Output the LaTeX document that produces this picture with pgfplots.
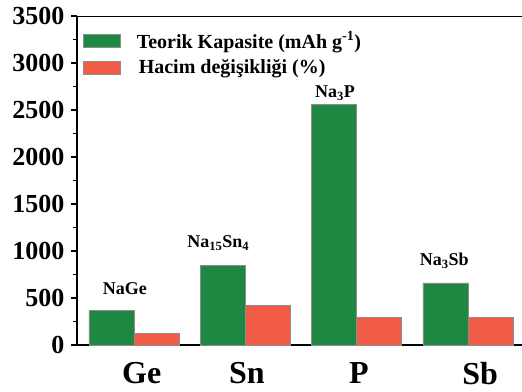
\documentclass[border=0pt]{standalone}
\usepackage{fontspec}
\setmainfont{Liberation Serif}
\usepackage{pgfplots}
\pgfplotsset{compat=1.18}
\definecolor{cgreen}{RGB}{30,135,66}
\definecolor{cred}{RGB}{240,92,69}
\begin{document}
\begin{tikzpicture}
\path[use as bounding box] (-77pt,-46pt) rectangle (445pt,345pt);
\begin{axis}[
  scale only axis, width=445pt, height=329pt,
  at={(0pt,0pt)}, anchor=south west,
  xmin=-0.512, xmax=3.486, ymin=0, ymax=3500,
  axis x line*=bottom, axis y line*=left,
  axis line style={line width=2pt},
  ybar=0pt, bar width=45pt,
  ytick={0,500,...,3500}, minor ytick={250,750,...,3250},
  tick align=outside, major tick length=6pt, minor tick length=3.5pt,
  every tick/.style={line width=1.3pt, black},
  xtick={0.07,1.015,2.02,3.11}, xticklabels={Ge,Sn,P,Sb},
  x tick style={draw=none},
  /pgf/number format/assume math mode=true,
  /pgf/number format/set thousands separator={},
  yticklabel style={font=\fontsize{26}{26}\selectfont\bfseries, xshift=-3pt},
  xticklabel style={font=\fontsize{32}{32}\selectfont\bfseries, yshift=-8pt},
  legend cell align=left,
  legend image code/.code={\draw[#1,draw=black!45,line width=0.6pt] (0pt,-6.5pt) rectangle (37pt,6.5pt);},
  legend style={draw=none, fill=none, at={(0.0135,0.96)}, anchor=north west,
    font=\fontsize{20}{22}\selectfont\bfseries, inner sep=0pt, row sep=6pt,
    /tikz/every odd column/.style={column sep=14pt}},
]
\addplot[fill=cgreen, draw=black!45, line width=0.6pt] coordinates {(0,369) (1,847) (2,2560) (3,660)};
\addlegendentry{Teorik Kapasite (mAh g\textsuperscript{-1})}
\addplot[fill=cred, draw=black!45, line width=0.6pt] coordinates {(0,125) (1,420) (2,291) (3,290)};
\addlegendentry{\hspace{2pt}Hacim değişikliği (\%)}
\draw[line width=1.2pt] (rel axis cs:0,1) -- (rel axis cs:1,1);
\begin{scope}[every node/.style={anchor=base, font=\fontsize{18}{18}\selectfont\bfseries}]
\node at (axis cs:-0.081,533) {NaGe};
\node at (axis cs:0.757,1032) {Na\textsubscript{15}Sn\textsubscript{4}};
\node at (axis cs:1.806,2632) {Na\textsubscript{3}P};
\node at (axis cs:2.787,846) {Na\textsubscript{3}Sb};
\end{scope}
\end{axis}
\end{tikzpicture}
\end{document}
